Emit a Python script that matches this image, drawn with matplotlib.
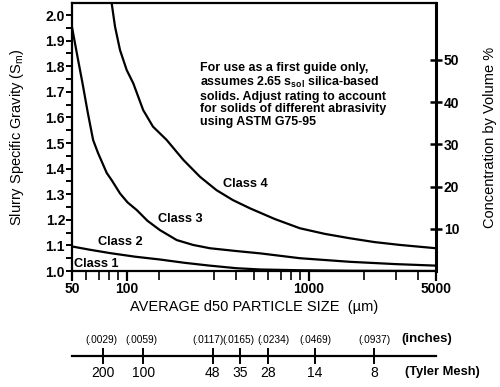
import numpy as np
import matplotlib
matplotlib.use("Agg")
import matplotlib.pyplot as plt
from matplotlib.ticker import FixedLocator, NullFormatter, FixedFormatter

plt.rcParams['font.family'] = ['Liberation Sans', 'DejaVu Sans']
plt.rcParams['mathtext.fontset'] = 'custom'
plt.rcParams['mathtext.rm'] = 'Liberation Sans'
plt.rcParams['mathtext.bf'] = 'Liberation Sans:bold'
plt.rcParams['mathtext.it'] = 'Liberation Sans:italic'

# class boundary curves (size in um, slurry SG)
c12_size = [50, 62.8, 80.9, 110.9, 152, 208, 286, 400, 540, 894, 1680, 5000]
c12_sg = [1.096, 1.083, 1.070, 1.056, 1.045, 1.032, 1.021, 1.011, 1.006, 1.003, 1.001, 1.000]

c23_size = [50, 53.5, 57.1, 61, 65.3, 69.5, 77.6, 82.6, 91.8, 101, 113.5, 130, 152, 188, 231,
            286, 400, 540, 894, 1680, 3000, 5000]
c23_sg = [1.953, 1.84, 1.734, 1.62, 1.512, 1.461, 1.383, 1.355, 1.303, 1.268, 1.238, 1.196,
          1.160, 1.121, 1.102, 1.089, 1.078, 1.069, 1.050, 1.036, 1.027, 1.021]

c34_size = [82.6, 86.2, 91.8, 99.9, 108.6, 123, 139.3, 165.6, 204.6, 252.6, 311, 383, 475, 651,
            894, 1227, 1680, 2298, 3157, 5000]
c34_sg = [2.046, 1.954, 1.863, 1.785, 1.733, 1.629, 1.564, 1.512, 1.434, 1.368, 1.316, 1.277,
          1.245, 1.203, 1.167, 1.145, 1.128, 1.113, 1.102, 1.089]

sg_solids = 2.65

mesh_labels = ['200', '100', '48', '35', '28', '14', '8']
inch_labels = ['(.0029)', '(.0059)', '(.0117)', '(.0165)', '(.0234)', '(.0469)', '(.0937)']
mesh_size = [74, 123, 297, 420, 595, 1082, 2283]
# where the inch labels sit along the size axis (they are squeezed together in the original)
inch_pos = [72.5, 121, 279, 409, 636, 1082, 2284]

fig = plt.figure(figsize=(5.0, 3.87), dpi=100)
ax = fig.add_axes([0.144, 0.2997, 0.728, 0.6925])

for s, g in [(c12_size, c12_sg), (c23_size, c23_sg), (c34_size, c34_sg)]:
    ax.plot(s, g, color='black', lw=1.6, solid_joinstyle='round')

ax.set_xscale('log')
ax.set_xlim(50, 5000)
ax.set_ylim(1.0, 2.047)

ax.xaxis.set_major_locator(FixedLocator([50, 100, 1000, 5000]))
ax.xaxis.set_major_formatter(FixedFormatter(['50', '100', '1000', '5000']))
ax.xaxis.set_minor_locator(FixedLocator([60, 70, 80, 90, 150, 300, 400, 500, 600, 700, 800, 900,
                                         2000, 3000, 4000]))
ax.xaxis.set_minor_formatter(NullFormatter())
ax.tick_params(axis='x', which='both', direction='out', length=6.5, width=1.2, pad=1)
ax.tick_params(axis='x', which='major', length=7, width=1.6)

ax.set_yticks(np.arange(1.0, 2.01, 0.1))
ax.set_yticklabels(['%.1f' % v for v in np.arange(1.0, 2.01, 0.1)])
ax.yaxis.set_minor_locator(FixedLocator(np.arange(1.05, 2.0, 0.1)))
ax.tick_params(axis='y', which='both', direction='out', length=4, width=1.4, pad=1)

for lab in ax.get_xticklabels() + ax.get_yticklabels():
    lab.set_fontweight('bold')
    lab.set_fontsize(10)

for sp in ax.spines.values():
    sp.set_linewidth(1.6)
ax.spines['right'].set_linewidth(2.2)

ax.set_ylabel('Slurry Specific Gravity (S$_{\\mathrm{m}}$)', fontsize=10.5, labelpad=14)
ax.set_xlabel('AVERAGE d50 PARTICLE SIZE  (\u00b5m)', fontsize=10.5, labelpad=3)

# concentration axis on the right
sec = ax.secondary_yaxis('right', functions=(lambda y: (y - 1) / (sg_solids - 1) * 100,
                                             lambda c: 1 + c / 100 * (sg_solids - 1)))
sec.set_yticks([10, 20, 30, 40, 50])
sec.tick_params(direction='inout', length=9, width=1.8, pad=1)
for lab in sec.get_yticklabels():
    lab.set_fontweight('bold')
    lab.set_fontsize(10)
sec.spines['right'].set_visible(False)
sec.set_ylabel('Concentration by Volume %', fontsize=10.5, labelpad=17)

note = ('For use as a first guide only,\n'
        'assumes 2.65 s$_{\\mathbf{sol}}$ silica-based\n'
        'solids. Adjust rating to account\n'
        'for solids of different abrasivity\n'
        'using ASTM G75-95')
fig.text(200 / 500, 1 - 62 / 387, note, fontsize=8.9, fontweight='bold', va='top', ha='left',
         linespacing=1.08)

for txt, px, py in [('Class 1', 96, 267), ('Class 2', 120, 245), ('Class 3', 180, 222), ('Class 4', 245, 187)]:
    fig.text(px / 500, 1 - py / 387, txt, fontsize=9.2, fontweight='bold', ha='center', va='baseline')

# Tyler mesh scale under the chart
mx = fig.add_axes([0.144, 0.0, 0.728, 67 / 387])
mx.set_xscale('log')
mx.set_xlim(50, 5000)
mx.set_ylim(0, 1)
mx.axis('off')
mx.plot([50, 5000], [0.467, 0.467], color='black', lw=1.6, clip_on=False)
for s, m in zip(mesh_size, mesh_labels):
    mx.plot([s, s], [0.36, 0.57], color='black', lw=1.4)
    mx.text(s, 0.21, m, fontsize=10, ha='center', va='center')
for p, i in zip(inch_pos, inch_labels):
    mx.text(p, 0.70, i, fontsize=7.3, ha='center', va='center')
fig.text(427 / 500, 1 - 339 / 387, '(inches)', fontsize=9.5, ha='center', va='center', fontweight='bold')
fig.text(442 / 500, 1 - 372 / 387, '(Tyler Mesh)', fontsize=9.3, ha='center', va='center', fontweight='bold')

fig.savefig('out.png', dpi=100)
